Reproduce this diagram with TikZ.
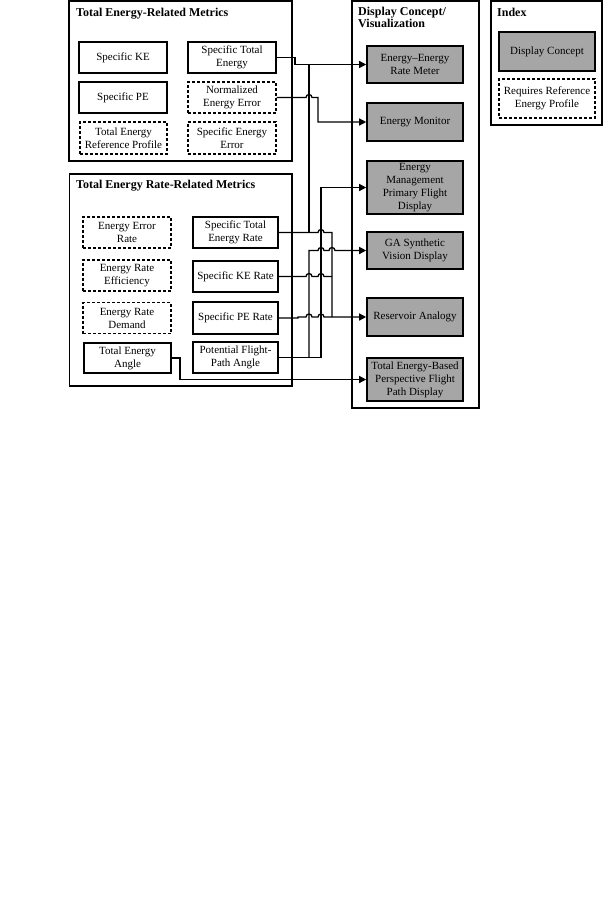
\documentclass[tikz,border=0pt]{standalone}
\usepackage{fontspec}
\setmainfont{Liberation Serif}
\usetikzlibrary{arrows.meta,calc}
\definecolor{dgray}{RGB}{166,166,166}
\begin{document}
\begin{tikzpicture}[x=1pt,y=1pt,
  every node/.style={font=\fontsize{11}{13}\selectfont, align=center, inner sep=0pt},
  grp/.style={draw, line width=1.6pt},
  sbox/.style={draw, line width=1.6pt},
  dbox/.style={draw, line width=1.4pt, dash pattern=on 3pt off 2pt},
  gbox/.style={draw, line width=1.6pt, fill=dgray},
  ttl/.style={font=\bfseries\fontsize{12}{12.5}\selectfont, align=left},
  conn/.style={line width=1.3pt},
  arr/.style={conn, -{Triangle[length=7pt,width=7pt]}},
]
\useasboundingbox (0,0) rectangle (603,-913);

% group boxes
\node[grp, minimum width=223pt, minimum height=160pt] (g1) at (180.5,-81) {};
\node[grp, minimum width=222.5pt, minimum height=212pt] (g2) at (180.75,-280) {};
\node[grp, minimum width=127pt, minimum height=407pt] (g3) at (415.5,-204.5) {};
\node[grp, minimum width=111pt, minimum height=124pt] (g4) at (546.5,-63) {};

% titles
\node[ttl, anchor=base west] (t1) at (76,-16) {Total Energy-Related Metrics};
\node[ttl, anchor=base west] (t2) at (76,-188.5) {Total Energy Rate-Related Metrics};
\node[ttl, anchor=north west] (t3) at (358,-6.5) {Display Concept/\\Visualization};
\node[ttl, anchor=base west] (t4) at (497,-16) {Index};

% group 1
\node[sbox, minimum width=88pt, minimum height=31pt] (ske) at (123,-57.5) {Specific KE};
\node[sbox, minimum width=88pt, minimum height=31pt] (ste) at (232,-57.5) {Specific Total\\Energy};
\node[sbox, minimum width=88pt, minimum height=31pt] (spe) at (123,-97.5) {Specific PE};
\node[dbox, minimum width=88pt, minimum height=31pt] (nee) at (232,-97.5) {Normalized\\Energy Error};
\node[dbox, minimum width=87pt, minimum height=32pt] (terp) at (123.5,-138) {Total Energy\\Reference Profile};
\node[dbox, minimum width=88pt, minimum height=32pt] (see) at (232,-138) {Specific Energy\\Error};

% group 2
\node[dbox, minimum width=88pt, minimum height=31pt] (eer) at (127,-232.5) {Energy Error\\Rate};
\node[sbox, minimum width=85pt, minimum height=31pt] (ster) at (235.5,-232.5) {Specific Total\\Energy Rate};
\node[dbox, minimum width=88pt, minimum height=31pt] (ere) at (127,-275.5) {Energy Rate\\Efficiency};
\node[sbox, minimum width=85pt, minimum height=31pt] (sker) at (235.5,-276.5) {Specific KE Rate};
\node[dbox, minimum width=88pt, minimum height=31pt] (erd) at (127,-318) {Energy Rate\\Demand};
\node[sbox, minimum width=85pt, minimum height=32pt] (sper) at (235.5,-318) {Specific PE Rate};
\node[sbox, minimum width=87pt, minimum height=30pt] (tea) at (127.5,-358) {Total Energy\\Angle};
\node[sbox, minimum width=85pt, minimum height=31pt] (pfpa) at (235.5,-357.5) {Potential Flight-\\Path Angle};

% group 3
\node[gbox, minimum width=96pt, minimum height=37pt] (eerm) at (415,-64.5) {Energy--Energy\\Rate Meter};
\node[gbox, minimum width=96pt, minimum height=38pt] (em) at (415,-122) {Energy Monitor};
\node[gbox, minimum width=96pt, minimum height=53pt] (empfd) at (415,-187.5) {Energy\\Management\\Primary Flight\\Display};
\node[gbox, minimum width=96pt, minimum height=37pt] (ga) at (415,-250.5) {GA Synthetic\\Vision Display};
\node[gbox, minimum width=96pt, minimum height=38pt] (ra) at (415,-317) {Reservoir Analogy};
\node[gbox, minimum width=96pt, minimum height=43pt] (tebp) at (415,-379.5) {Total Energy-Based\\Perspective Flight\\Path Display};

% index
\node[gbox, minimum width=96pt, minimum height=39pt] (idc) at (547,-51.5) {Display Concept};
\node[dbox, minimum width=96pt, minimum height=39pt] (irep) at (547,-98.5) {Requires Reference\\Energy Profile};

% routing columns
\coordinate (jA) at (295,0);
\coordinate (bL) at (309,0);
\coordinate (jN) at (318,0);
\coordinate (bM) at (321,0);
\coordinate (bR) at (332,0);
\coordinate (jT) at (180,0);
\coordinate (jS) at (298,0);

% connectors
\draw[arr] (ste.east) -| (jA |- eerm.west) -- (eerm.west);
\draw[conn] (bL |- eerm.west) -- (bL |- ster.east);
\draw[arr] (nee.east) -- ($(bL |- nee.east)+(-3,0)$) arc[start angle=180,end angle=0,radius=3pt] -| (jN |- em.west) -- (em.west);
\draw[conn] (ster.east) -- ($(bM |- ster.east)+(-3,0)$) arc[start angle=180,end angle=0,radius=3pt] -| (bR |- ra.west);
\draw[conn] (sker.east) -- ($(bL |- sker.east)+(-3,0)$) arc[start angle=180,end angle=0,radius=3pt]
  -- ($(bM |- sker.east)+(-3,0)$) arc[start angle=180,end angle=0,radius=3pt] -- (bR |- sker.east);
\draw[arr] (sper.east) -| (jS |- ra.west) -- ($(bL |- ra.west)+(-3,0)$) arc[start angle=180,end angle=0,radius=3pt]
  -- ($(bM |- ra.west)+(-3,0)$) arc[start angle=180,end angle=0,radius=3pt] -- (ra.west);
\draw[arr] (pfpa.east) -- (bM |- pfpa.east) -- (bM |- empfd.west) -- (empfd.west);
\draw[arr] (bL |- pfpa.east) -- (bL |- ga.west) -- ($(bM |- ga.west)+(-3,0)$) arc[start angle=180,end angle=0,radius=3pt]
  -- ($(bR |- ga.west)+(-3,0)$) arc[start angle=180,end angle=0,radius=3pt] -- (ga.west);
\draw[arr] (tea.east) -| (jT |- tebp.west) -- (tebp.west);
\end{tikzpicture}
\end{document}
